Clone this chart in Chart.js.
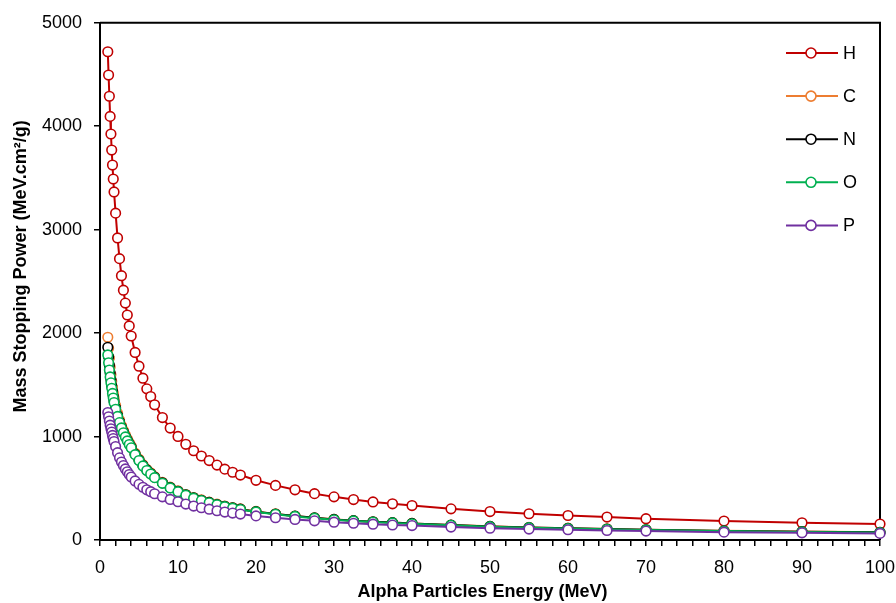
<!DOCTYPE html>
<html>
<head>
<meta charset="utf-8">
<script src="https://cdn.jsdelivr.net/npm/chart.js@4.4.0/dist/chart.umd.min.js"></script>
<style>
  html, body { margin: 0; padding: 0; background: #fff; }
  #wrap { width: 896px; height: 603px; }
</style>
</head>
<body>
<div id="wrap"><canvas id="grafico" width="896" height="603"></canvas></div>
<script>
// energias das partículas alfa (MeV)
const energia = [1, 1.1, 1.2, 1.3, 1.4, 1.5, 1.6, 1.7, 1.8, 2, 2.25, 2.5, 2.75, 3, 3.25, 3.5, 3.75, 4, 4.5, 5,
  5.5, 6, 6.5, 7, 8, 9, 10, 11, 12, 13, 14, 15, 16, 17, 18, 20, 22.5, 25, 27.5, 30,
  32.5, 35, 37.5, 40, 45, 50, 55, 60, 65, 70, 80, 90, 100];

// poder de freamento mássico (MeV.cm²/g)
const serieH = [4720, 4495, 4290, 4095, 3925, 3770, 3625, 3490, 3365, 3160, 2920, 2720, 2555, 2415, 2290, 2175, 2070, 1972, 1813, 1680,
  1564, 1461, 1387, 1307, 1184, 1082, 1001, 925, 863, 812, 768, 724, 685, 655, 628, 577, 528, 485, 448, 417,
  391, 368, 350, 333, 301, 275, 254, 237, 222, 206, 183, 166, 154];
const serieC = [1960, 1853, 1758, 1672, 1599, 1535, 1475, 1422, 1373, 1300, 1225, 1161, 1106, 1058, 1015, 976, 940, 907, 839, 781,
  728, 683, 648, 613, 557, 511, 475, 440, 411, 387, 366, 346, 328, 313, 300, 276, 252, 232, 215, 200,
  187, 176, 168, 160, 145, 132, 122, 114, 107, 100, 89, 81, 75];
const serieN = [1863, 1771, 1689, 1614, 1549, 1492, 1438, 1390, 1344, 1276, 1205, 1144, 1091, 1044, 1002, 964, 929, 897, 830, 773,
  721, 677, 643, 608, 553, 507, 471, 437, 408, 384, 363, 343, 325, 311, 298, 274, 251, 231, 214, 199,
  187, 176, 168, 160, 144, 131, 121, 113, 106, 99, 88, 80, 74];
const serieO = [1789, 1713, 1643, 1577, 1519, 1467, 1417, 1372, 1329, 1264, 1195, 1135, 1083, 1037, 996, 958, 923, 891, 825, 768,
  716, 672, 638, 603, 548, 503, 467, 433, 404, 381, 360, 340, 322, 308, 295, 271, 248, 228, 211, 196,
  184, 173, 165, 157, 142, 129, 119, 111, 104, 97, 86, 78, 72];
const serieP = [1232, 1191, 1150, 1110, 1075, 1044, 1011, 981, 952, 904, 844, 794, 754, 720, 687, 659, 633, 609, 571, 538,
  510, 485, 467, 447, 417, 392, 370, 347, 328, 312, 298, 283, 270, 260, 251, 233, 215, 199, 185, 172,
  162, 153, 145, 139, 125, 114, 106, 99, 92, 86, 76, 69, 64];

const nomes = ["H", "C", "N", "O", "P"];
const series = [serieH, serieC, serieN, serieO, serieP];
const cores = ["#C00000", "#ED7D31", "#000000", "#00B050", "#7030A0"];

const fonte = '"Liberation Sans", Arial, sans-serif';

// moldura superior/direita da área do gráfico
const moldura = {
  id: "moldura",
  beforeDatasetsDraw(chart) {
    const { ctx, chartArea: a } = chart;
    ctx.save();
    ctx.strokeStyle = "#000";
    ctx.lineWidth = 2;
    ctx.beginPath();
    ctx.moveTo(a.left, a.top);
    ctx.lineTo(a.right, a.top);
    ctx.lineTo(a.right, a.bottom);
    ctx.stroke();
    ctx.restore();
  }
};

// legenda no estilo linha-marcador-linha
const legenda = {
  id: "legenda",
  afterDraw(chart) {
    const ctx = chart.ctx;
    chart.data.datasets.forEach((ds, i) => {
      const y = 53 + i * 43.1;
      ctx.save();
      ctx.strokeStyle = ds.borderColor;
      ctx.lineWidth = 2;
      ctx.beginPath();
      ctx.moveTo(786, y);
      ctx.lineTo(838, y);
      ctx.stroke();
      ctx.beginPath();
      ctx.arc(811, y, 5, 0, Math.PI * 2);
      ctx.fillStyle = "#fff";
      ctx.fill();
      ctx.lineWidth = 1.6;
      ctx.stroke();
      ctx.fillStyle = "#000";
      ctx.font = "18px " + fonte;
      ctx.textBaseline = "middle";
      ctx.fillText(ds.label, 843, y + 1);
      ctx.restore();
    });
  }
};

new Chart(document.getElementById("grafico"), {
  type: "line",
  data: {
    datasets: nomes.map((nome, i) => ({
      label: nome,
      data: energia.map((e, k) => ({ x: e, y: series[i][k] })),
      borderColor: cores[i],
      backgroundColor: cores[i],
      borderWidth: 2,
      pointRadius: 4.8,
      pointBorderWidth: 1.6,
      pointBackgroundColor: "#fff",
      pointBorderColor: cores[i],
      tension: 0,
      clip: false,
      order: nomes.length - 1 - i
    }))
  },
  options: {
    responsive: false,
    animation: false,
    devicePixelRatio: 1,
    layout: { padding: { top: 22, right: 16, left: 0, bottom: 0 } },
    plugins: { legend: { display: false }, tooltip: { enabled: false } },
    scales: {
      x: {
        type: "linear",
        min: 0,
        max: 100,
        ticks: {
          stepSize: 2,
          autoSkip: false,
          maxRotation: 0,
          padding: 11,
          color: "#000",
          font: { family: fonte, size: 18 },
          callback: v => (v % 10 === 0 ? String(v) : "")
        },
        grid: { display: true, drawOnChartArea: false, drawTicks: true, tickLength: 6, color: "#000", lineWidth: 1.5 },
        border: { display: true, color: "#000", width: 2 },
        title: {
          display: true,
          text: "Alpha Particles Energy (MeV)   ",
          color: "#000",
          font: { family: fonte, size: 18, weight: "bold" },
          padding: { top: 0, bottom: 0 }
        },
        afterFit: s => { s.height = 63; s.paddingRight = 0; s.paddingLeft = 0; }
      },
      y: {
        min: 0,
        max: 5000,
        ticks: {
          stepSize: 1000,
          padding: 12,
          color: "#000",
          font: { family: fonte, size: 18 },
          callback: v => String(v)
        },
        grid: { display: true, drawOnChartArea: false, drawTicks: true, tickLength: 6, color: "#000", lineWidth: 1.5 },
        border: { display: true, color: "#000", width: 2 },
        title: {
          display: true,
          text: "      Mass Stopping Power (MeV.cm²/g)",
          color: "#000",
          font: { family: fonte, size: 18, weight: "bold" },
          padding: { top: 10, bottom: 0 }
        },
        afterFit: s => { s.width = 100; }
      }
    }
  },
  plugins: [moldura, legenda]
});
</script>
</body>
</html>
